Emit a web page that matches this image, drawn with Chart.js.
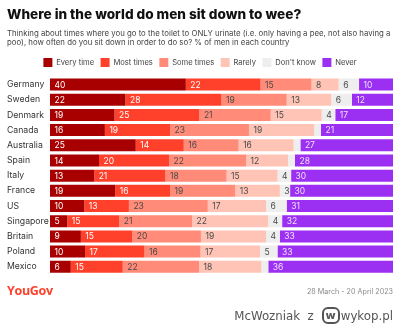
<!DOCTYPE html>
<html>
<head>
<meta charset="utf-8">
<script src="https://cdn.jsdelivr.net/npm/chart.js@4.4.1/dist/chart.umd.min.js"></script>
<style>
  html, body { margin: 0; padding: 0; background: #fff; }
  #wrap { position: relative; width: 400px; height: 325px; overflow: hidden; font-family: Inter, "Open Sans", sans-serif; }
  #box { position: absolute; left: 0; top: 0; width: 400px; height: 325px; }
  #brand { position: absolute; left: 7px; top: 283px; font-family: "Open Sans", sans-serif; font-weight: 700; font-size: 12.5px; color: #ff412c; letter-spacing: -0.3px; line-height: 16px; }
  #date { position: absolute; right: 7px; top: 287px; font-size: 7.2px; color: #8a8a8a; line-height: 10px; }
  #mark { position: absolute; right: 7px; top: 307px; font-family: "DejaVu Sans", sans-serif; font-size: 11.8px; color: #555; line-height: 18px; white-space: nowrap; }
  #mark .logo { display: inline-block; border: 2px solid #555; border-radius: 6px; padding: 0 2px; line-height: 13px; font-weight: 700; font-size: 11px; margin: 0 1px 0 4px; vertical-align: 1px; }
</style>
</head>
<body>
<div id="wrap">
  <div id="box"><canvas id="c"></canvas></div>
  <div id="brand">YouGov</div>
  <div id="date">28 March - 20 April 2023</div>
  <div id="mark">McWozniak&nbsp; z <span class="logo">w</span>wykop.pl</div>
</div>
<script>
const categories = ['Germany','Sweden','Denmark','Canada','Australia','Spain','Italy','France','US','Singapore','Britain','Poland','Mexico'];
const seriesNames = ['Every time','Most times','Some times','Rarely',"Don't know",'Never'];
const everyTime = [40,22,19,16,25,14,13,19,10,5,9,10,6];
const mostTimes = [22,28,25,19,14,20,21,16,13,15,15,17,15];
const someTimes = [15,19,21,23,16,22,18,19,23,21,20,16,22];
const rarely    = [8,13,15,19,16,12,15,13,17,22,19,17,18];
const dontKnow  = [6,6,4,2,2,2,4,3,6,4,4,5,2];
const never     = [10,12,17,21,27,28,30,30,31,32,33,33,36];

const series = [everyTime, mostTimes, someTimes, rarely, dontKnow, never];
const colors = ['#a80000','#ff412c','#ff8b78','#ffc4b6','#eeeeee','#9b2ff2'];
const labelColors = ['#ffffff','#ffffff','#4a4a4a','#4a4a4a','#4a4a4a','#f0e2ff'];

// each bar represents 100% of respondents in that country
const rowTotals = categories.map((_, i) => series.reduce((s, arr) => s + arr[i], 0));

const datasets = series.map((arr, k) => ({
  label: seriesNames[k],
  data: arr.map((v, i) => v / rowTotals[i] * 100),
  backgroundColor: colors[k],
  borderWidth: 0,
  barPercentage: 0.79,
  categoryPercentage: 1.0
}));

const segLabels = {
  id: 'segLabels',
  afterDatasetsDraw(chart) {
    const ctx = chart.ctx;
    ctx.save();
    ctx.font = '400 8.5px Inter, sans-serif';
    ctx.textBaseline = 'middle';
    ctx.textAlign = 'left';
    chart.data.datasets.forEach((ds, k) => {
      const meta = chart.getDatasetMeta(k);
      meta.data.forEach((bar, i) => {
        const v = series[k][i];
        if (v < 3) return;
        const left = Math.min(bar.x, bar.base);
        ctx.fillStyle = labelColors[k];
        ctx.fillText(String(v), left + 4.5, bar.y + 0.5);
      });
    });
    ctx.restore();
  }
};

new Chart(document.getElementById('c'), {
  type: 'bar',
  data: { labels: categories, datasets },
  options: {
    indexAxis: 'y',
    responsive: true,
    maintainAspectRatio: false,
    animation: false,
    devicePixelRatio: 1,
    layout: { padding: { left: 7, right: 7, top: 0, bottom: 50.6 } },
    plugins: {
      title: {
        display: true,
        text: 'Where in the world do men sit down to wee?',
        align: 'start',
        color: '#111',
        font: { family: 'Inter, sans-serif', size: 13.6, weight: '800' },
        padding: { top: 7, bottom: 5 }
      },
      subtitle: {
        display: true,
        text: ['Thinking about times where you go to the toilet to ONLY urinate (i.e. only having a pee, not also having a',
               'poo), how often do you sit down in order to do so? % of men in each country'],
        align: 'start',
        color: '#444',
        font: { family: 'Inter, sans-serif', size: 7.8, weight: '400', lineHeight: '9.8px' },
        padding: { top: 0, bottom: 3.5 }
      },
      legend: {
        display: true,
        position: 'top',
        labels: {
          boxWidth: 9, boxHeight: 9, padding: 6.5,
          color: '#444',
          font: { family: 'Inter, sans-serif', size: 7.6 }
        }
      },
      tooltip: { enabled: false }
    },
    scales: {
      x: { stacked: true, min: 0, max: 100, display: false },
      y: {
        stacked: true,
        grid: { display: false },
        border: { display: false },
        ticks: { crossAlign: 'far', color: '#333', font: { family: 'Inter, sans-serif', size: 8.7 }, padding: 0 },
        afterFit(scale) { scale.width = 43; }
      }
    }
  },
  plugins: [segLabels]
});
</script>
</body>
</html>
